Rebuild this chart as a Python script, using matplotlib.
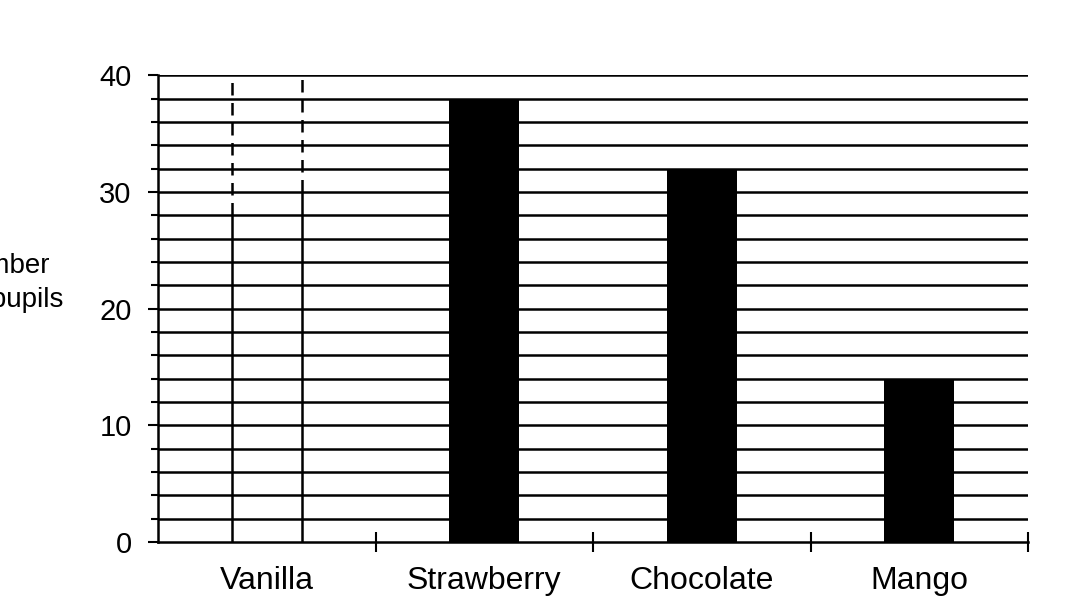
import numpy as np
import matplotlib.pyplot as plt

FLAVOURS = ['Vanilla', 'Strawberry', 'Chocolate', 'Mango']
PUPILS = [0, 38, 32, 14]
Y_TICKS = [0, 10, 20, 30, 40]
Y_GRID_STEP = 2
# outline left for the missing vanilla bar: dashed above, solid below
VANILLA_SOLID_TOP = [28, 30]
VANILLA_DASH_TOP = 40


def main():
    plt.rcParams['font.family'] = ['Liberation Sans', 'DejaVu Sans']
    fig = plt.figure(figsize=(10.72, 6.07), dpi=100)
    ax = fig.add_axes([0.1474, 0.107, 0.8116, 0.769])

    x = np.arange(len(FLAVOURS))
    bar_width = 0.32

    ax.set_xlim(-0.5, len(FLAVOURS) - 0.5)
    ax.set_ylim(0, Y_TICKS[-1])

    # horizontal rules every 2 pupils
    grid_vals = np.arange(Y_GRID_STEP, Y_TICKS[-1] + 1, Y_GRID_STEP)
    ax.hlines(grid_vals, -0.5, len(FLAVOURS) - 0.5, colors='black', linewidth=1.8, zorder=1)

    ax.bar(x, PUPILS, width=bar_width, color='black', zorder=3)

    # vanilla outline
    edges = [x[0] - bar_width / 2, x[0] + bar_width / 2]
    for edge, solid_top in zip(edges, VANILLA_SOLID_TOP):
        ax.vlines(edge, 0, solid_top, colors='black', linewidth=1.8, zorder=2)
        ax.vlines(edge, solid_top, VANILLA_DASH_TOP, colors='black', linewidth=1.8,
                  linestyles=(0, (5, 3)), zorder=2)

    ax.spines['top'].set_visible(False)
    ax.spines['right'].set_visible(False)
    for side in ['left', 'bottom']:
        ax.spines[side].set_linewidth(1.8)
        ax.spines[side].set_zorder(4)

    ax.set_yticks(Y_TICKS)
    ax.set_yticks(grid_vals, minor=True)
    ax.tick_params(axis='y', which='major', direction='out', length=7, width=1.5,
                   labelsize=21, pad=12)
    ax.tick_params(axis='y', which='minor', direction='out', length=5, width=1.5)

    ax.set_xticks(x)
    ax.set_xticklabels(FLAVOURS)
    ax.set_xticks(list(x[1:] - 0.5) + [len(FLAVOURS) - 0.5], minor=True)
    ax.tick_params(axis='x', which='major', length=0, labelsize=23, pad=17)
    ax.tick_params(axis='x', which='minor', direction='inout', length=14, width=1.5)

    # y label is cut off at the left edge in the original
    fig.text(50 / 1072, 1 - 273 / 607, 'Number', ha='right', va='baseline', fontsize=20)
    fig.text(63 / 1072, 1 - 307 / 607, 'of pupils', ha='right', va='baseline', fontsize=20)

    fig.savefig('out.png', dpi=100, facecolor='w')
    plt.close('all')


if __name__ == '__main__':
    main()
